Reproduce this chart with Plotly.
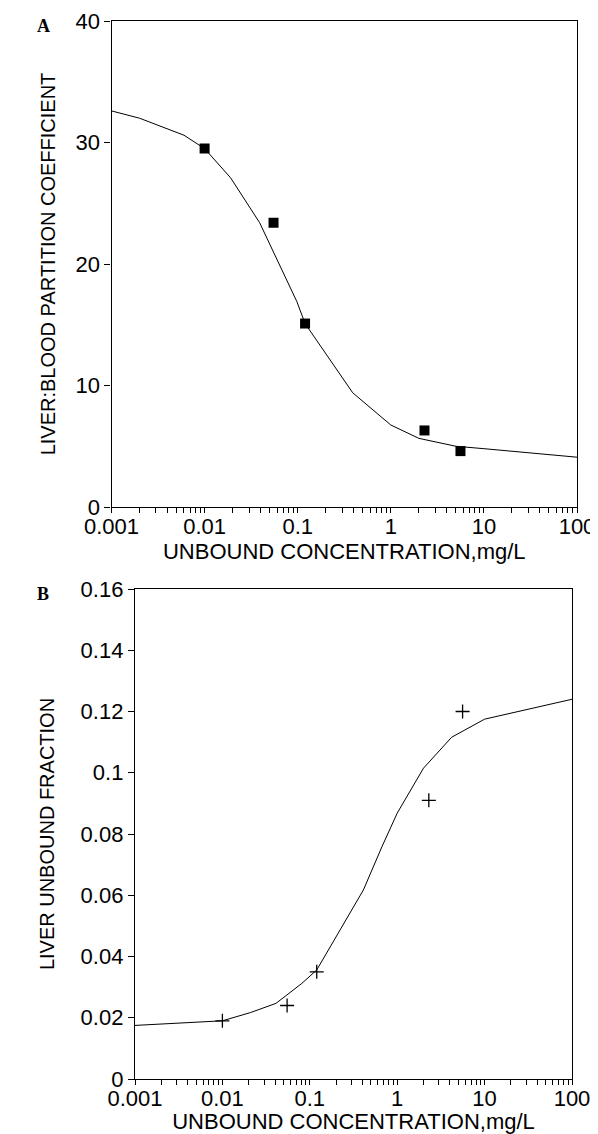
import plotly.graph_objects as go

# ---- data ----
conc_obs = [0.01, 0.055, 0.12, 2.3, 5.6]
kp_obs = [29.5, 23.4, 15.1, 6.3, 4.6]
fu_obs = [0.019, 0.024, 0.035, 0.091, 0.120]

conc_fit_a = [0.001, 0.002, 0.006, 0.01, 0.019, 0.039, 0.098, 0.12, 0.39, 1.0, 2.0, 5.0, 10, 100]
kp_fit = [32.6, 32.0, 30.6, 29.5, 27.1, 23.4, 16.9, 15.1, 9.4, 6.75, 5.65, 5.0, 4.8, 4.1]

conc_fit_b = [0.001, 0.0055, 0.01, 0.021, 0.041, 0.081, 0.12, 0.41, 0.67, 1.0, 2.0, 4.2, 10, 100]
fu_fit = [0.0175, 0.0187, 0.019, 0.0217, 0.0247, 0.0312, 0.0356, 0.0617, 0.0759, 0.0868, 0.1015, 0.1116, 0.1175, 0.124]

decades = [0.001, 0.01, 0.1, 1, 10, 100]
decade_labels = ["0.001", "0.01", "0.1", "1", "10", "100"]
ya_ticks = [0, 10, 20, 30, 40]
yb_ticks = [0, 0.02, 0.04, 0.06, 0.08, 0.1, 0.12, 0.14, 0.16]
yb_labels = ["0", "0.02", "0.04", "0.06", "0.08", "0.1", "0.12", "0.14", "0.16"]

x_title = "UNBOUND CONCENTRATION,mg/L"
ya_title = "LIVER:BLOOD PARTITION COEFFICIENT"
yb_title = "LIVER UNBOUND FRACTION"

# tick positions on log axis (majors + minors)
xtickvals = []
xticktext = []
for d, lab in zip(decades, decade_labels):
    xtickvals.append(d)
    xticktext.append(lab)
    if d < 100:
        for m in range(2, 10):
            xtickvals.append(d * m)
            xticktext.append("")

# page has an 8px body margin: figure starts at (8, 8) of the window
OFF = 8
W, H = 598 - OFF, 1134 - OFF


def px(x):
    return (x - OFF) / W


def py(y):
    return 1 - (y - OFF) / H


FONT = "Liberation Sans, Arial, sans-serif"

fig = go.Figure()
fig.add_trace(go.Scatter(x=conc_fit_a, y=kp_fit, mode="lines",
                         line=dict(color="black", width=1), xaxis="x", yaxis="y",
                         showlegend=False))
fig.add_trace(go.Scatter(x=conc_obs, y=kp_obs, mode="markers",
                         marker=dict(symbol="square", size=10, color="black"),
                         xaxis="x", yaxis="y", showlegend=False))
fig.add_trace(go.Scatter(x=conc_fit_b, y=fu_fit, mode="lines",
                         line=dict(color="black", width=1), xaxis="x2", yaxis="y2",
                         showlegend=False))
fig.add_trace(go.Scatter(x=conc_obs, y=fu_obs, mode="markers",
                         marker=dict(symbol="cross-thin", size=10, color="black",
                                     line=dict(color="black", width=1.3)),
                         xaxis="x2", yaxis="y2", showlegend=False))

common_x = dict(type="log", range=[-3, 2], tickmode="array", tickvals=xtickvals,
                ticktext=xticktext, ticks="outside", ticklen=5, tickwidth=1,
                tickcolor="black", showline=True, linecolor="black", linewidth=1.3,
                mirror=True, showgrid=False, zeroline=False, automargin=False,
                ticklabelstandoff=-6,
                tickfont=dict(family=FONT, size=22, color="black"),
                title=dict(text=x_title, font=dict(family=FONT, size=22, color="black"),
                           standoff=0))
common_y = dict(ticks="outside", ticklen=6, tickwidth=1, tickcolor="black",
                showline=True, linecolor="black", linewidth=1.3, mirror=True,
                showgrid=False, zeroline=False, automargin=False,
                tickfont=dict(family=FONT, size=22, color="black"))

fig.update_layout(
    width=W, height=H,
    margin=dict(l=0, r=0, t=0, b=0, autoexpand=False),
    paper_bgcolor="white", plot_bgcolor="white",
    xaxis=dict(common_x, domain=[px(111.5), px(577)], anchor="y"),
    yaxis=dict(common_y, domain=[py(507), py(21)], anchor="x",
               range=[0, 40], tickmode="array", tickvals=ya_ticks,
               ticktext=[str(v) for v in ya_ticks],
               title=dict(text=ya_title, font=dict(family=FONT, size=20, color="black"),
                          standoff=14)),
    xaxis2=dict(common_x, domain=[px(135), px(572)], anchor="y2"),
    yaxis2=dict(common_y, domain=[py(1079), py(589)], anchor="x2",
                range=[0, 0.16], tickmode="array", tickvals=yb_ticks,
                ticktext=yb_labels,
                title=dict(text=yb_title, font=dict(family=FONT, size=20, color="black"),
                           standoff=20)),
    annotations=[
        dict(text="<b>A</b>", x=px(35), y=py(26), xref="paper", yref="paper",
             showarrow=False, xanchor="left", yanchor="middle",
             font=dict(family="Liberation Serif, Times New Roman, serif", size=18, color="black")),
        dict(text="<b>B</b>", x=px(35), y=py(594), xref="paper", yref="paper",
             showarrow=False, xanchor="left", yanchor="middle",
             font=dict(family="Liberation Serif, Times New Roman, serif", size=18, color="black")),
    ],
)

fig.write_html("out.html")
